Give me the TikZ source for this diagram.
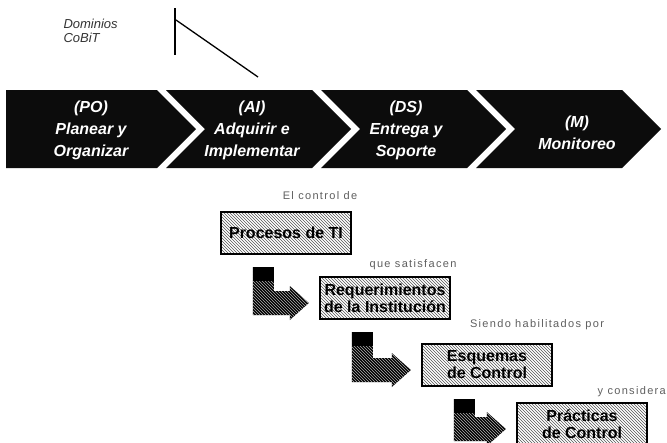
\documentclass[tikz,border=0pt]{standalone}
\usepackage{fontspec}
\setmainfont{Liberation Sans}
\newfontfamily\spacedfont{Liberation Sans}[LetterSpace=12]
\usepackage{xcolor}
\usetikzlibrary{calc,patterns,positioning}
\definecolor{DomainBlack}{RGB}{12, 12, 12}
\definecolor{NoteGray}   {RGB}{95, 95, 95}
\definecolor{HatchGray}  {RGB}{85, 85, 85}
\tikzset{
  chevron/.style={fill=DomainBlack},
  domaintext/.style={text=white, align=center,
    font=\fontsize{16}{22}\selectfont\bfseries\itshape},
  ctlbox/.style={draw=black, line width=2.4pt, preaction={fill=white},
    pattern=north west lines, pattern color=HatchGray,
    minimum width=130pt, minimum height=42pt, inner sep=1pt, align=center,
    font=\fontsize{16}{17}\selectfont\bfseries},
  notetext/.style={text=NoteGray, inner sep=0pt,
    font=\spacedfont\fontsize{11}{12}\selectfont},
  elbowfill/.style={preaction={fill=black}, pattern=north west lines,
    pattern color=white!70!black},
  callout/.style={draw=black, line width=1.3pt},
}
\newcommand{\ElbowArrow}[2]{%
  \path[elbowfill] let \p1=(#1.south west), \p2=(#2.west) in
    (\x1+33pt,\y1-12pt) -- (\x1+54pt,\y1-12pt) -- (\x1+54pt,\y2+7pt)
    -- (\x2-29pt,\y2+7pt) -- (\x2-29pt,\y2+12pt) -- (\x2-10pt,\y2-5pt)
    -- (\x2-29pt,\y2-22pt) -- (\x2-29pt,\y2-17pt) -- (\x1+33pt,\y2-17pt)
    -- cycle;%
  \fill[black] let \p1=(#1.south west) in
    (\x1+33pt,\y1-12pt) rectangle (\x1+54pt,\y1-26pt);%
}

\begin{document}
\begin{tikzpicture}[x=1pt, y=-1pt]
  \useasboundingbox (0,0) rectangle (667,442);
  \clip (0,0) rectangle (667,442);
  \fill[white] (0,0) rectangle (667,442);

  % domain caption and its pointer
  \node[font=\fontsize{13}{14}\selectfont\itshape, text=black!80,
        align=left, anchor=west] (domcap) at (60,31) {Dominios\\CoBiT};
  \coordinate (calltop)   at (175,8);
  \coordinate (callbot)   at (175,55);
  \coordinate (callstart) at (176,20);
  \coordinate (callend)   at (258,77);
  \draw[callout] (calltop) -- (callbot);
  \draw[callout] (callstart) -- (callend);

  % chevrons
  \fill[chevron] (6,90) -- (157,90) -- (196,129) -- (157,168) -- (6,168) -- cycle;
  \foreach \i in {1,2,3}
    \fill[chevron] ({11+155*\i},90) -- ({157+155*\i},90) -- ({196+155*\i},129)
      -- ({157+155*\i},168) -- ({11+155*\i},168) -- ({50+155*\i},129) -- cycle;
  \node[domaintext] (po)  at (91,130)  {(PO)\\Planear y\\Organizar};
  \node[domaintext] (ai)  at (252,130) {(AI)\\Adquirir e\\Implementar};
  \node[domaintext] (ds)  at (406,130) {(DS)\\Entrega y\\Soporte};
  \node[domaintext] (mon) at (577,133) {(M)\\Monitoreo};

  % control chain
  \node[ctlbox] (procti)  at (286,233) {Procesos de TI};
  \node[ctlbox] (reqinst) at (385,298) {Requerimientos\\de la Institución};
  \node[ctlbox] (esqctl)  at (487,365) {Esquemas\\de Control};
  \node[ctlbox] (practl)  at (582,424) {Prácticas\\de Control};

  \node[notetext] (lblctl) at (320,196) {El control de};
  \node[notetext] (lblsat) at (413,265) {que satisfacen};
  \node[notetext] (lblhab) at (537,325) {Siendo habilitados por};
  \node[notetext, anchor=east] (lblcons) at (666,392) {y considera};

  \ElbowArrow{procti}{reqinst}
  \ElbowArrow{reqinst}{esqctl}
  \ElbowArrow{esqctl}{practl}
\end{tikzpicture}
\end{document}
